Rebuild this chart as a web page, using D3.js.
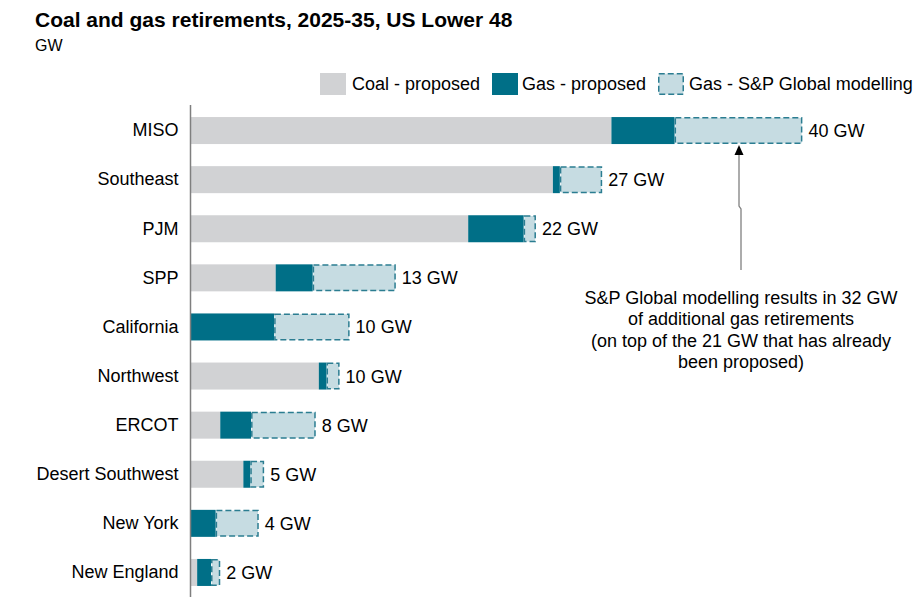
<!DOCTYPE html>
<html>
<head>
<meta charset="utf-8">
<script src="https://cdn.jsdelivr.net/npm/d3@7"></script>
<style>
  html, body { margin: 0; padding: 0; background: #fff; }
  svg { display: block; font-family: "Liberation Sans", Arial, sans-serif; }
</style>
</head>
<body>
<svg id="chart" width="919" height="604"></svg>
<script>
// ---- Data (GW) ----
const regions = ["MISO", "Southeast", "PJM", "SPP", "California", "Northwest", "ERCOT", "Desert Southwest", "New York", "New England"];
const coalProposed = [27.3, 23.5, 18.0, 5.5, 0.0, 8.3, 1.9, 3.4, 0.0, 0.4];
const gasProposed  = [4.1, 0.45, 3.6, 2.4, 5.4, 0.5, 2.0, 0.45, 1.6, 0.9];
const gasModelling = [8.3, 2.75, 0.8, 5.4, 4.9, 0.85, 4.2, 0.9, 2.8, 0.6];
const seriesNames = ["Coal - proposed", "Gas - proposed", "Gas - S&P Global modelling"];
const annotationLines = [
  "S&P Global modelling results in 32 GW",
  "of additional gas retirements",
  "(on top of the 21 GW that has already",
  "been proposed)"
];

const colors = { coal: "#d1d2d4", gas: "#006f87", model: "#c6dce2", modelStroke: "#2b7d91" };

const svg = d3.select("#chart");

// Title
svg.append("text").attr("x", 35).attr("y", 27)
  .attr("font-size", 21).attr("font-weight", "bold").attr("fill", "#000")
  .text("Coal and gas retirements, 2025-35, US Lower 48");
svg.append("text").attr("x", 35).attr("y", 51)
  .attr("font-size", 16).attr("fill", "#000").text("GW");

// Scales
const x = d3.scaleLinear().domain([0, 40]).range([191, 191 + 15.4 * 40]);
const y = d3.scaleBand().domain(regions).range([106, 597]).paddingInner(0.45).paddingOuter(0.225);

const rows = regions.map((r, i) => {
  const c = coalProposed[i], g = gasProposed[i], m = gasModelling[i];
  return { region: r, coal: c, gas: g, model: m, total: c + g + m };
});

// Bars
const bh = y.bandwidth();
const g = svg.append("g");
g.selectAll("rect.coal").data(rows).join("rect").attr("class", "coal")
  .attr("x", d => x(0)).attr("y", d => y(d.region))
  .attr("width", d => x(d.coal) - x(0)).attr("height", bh)
  .attr("fill", colors.coal);
g.selectAll("rect.gas").data(rows).join("rect").attr("class", "gas")
  .attr("x", d => x(d.coal)).attr("y", d => y(d.region))
  .attr("width", d => x(d.coal + d.gas) - x(d.coal)).attr("height", bh)
  .attr("fill", colors.gas);
g.selectAll("rect.model").data(rows).join("rect").attr("class", "model")
  .attr("x", d => x(d.coal + d.gas) + 0.75).attr("y", d => y(d.region) + 0.75)
  .attr("width", d => x(d.total) - x(d.coal + d.gas) - 1.5).attr("height", bh - 1.5)
  .attr("fill", colors.model)
  .attr("stroke", colors.modelStroke).attr("stroke-width", 1.5)
  .attr("stroke-dasharray", "6,3");

// Value labels
g.selectAll("text.val").data(rows).join("text").attr("class", "val")
  .attr("x", d => x(d.total) + 6).attr("y", d => y(d.region) + bh / 2)
  .attr("dy", "0.36em").attr("font-size", 18).attr("fill", "#000")
  .text(d => Math.round(d.total) + " GW");

// Y axis (category labels + line)
const yAxis = d3.axisLeft(y).tickSize(0).tickPadding(12);
const ag = svg.append("g").attr("transform", `translate(${x(0) - 0.5},0)`).call(yAxis);
ag.select(".domain").remove();
ag.selectAll("text").attr("font-size", 18).attr("fill", "#000")
  .attr("font-family", "'Liberation Sans', Arial, sans-serif");
svg.append("line").attr("x1", x(0) - 0.5).attr("x2", x(0) - 0.5)
  .attr("y1", 105).attr("y2", 597).attr("stroke", "#7f7f7f").attr("stroke-width", 1.5);

// Legend
const legendItems = [
  { name: seriesNames[0], sx: 320, tx: 352, fill: colors.coal, dashed: false },
  { name: seriesNames[1], sx: 492, tx: 522, fill: colors.gas, dashed: false },
  { name: seriesNames[2], sx: 658, tx: 689, fill: colors.model, dashed: true }
];
const lg = svg.append("g");
legendItems.forEach(it => {
  const r = lg.append("rect").attr("x", it.sx + (it.dashed ? 0.75 : 0)).attr("y", 73 + (it.dashed ? 0.75 : 0))
    .attr("width", it.dashed ? 24.5 : 26).attr("height", it.dashed ? 20.5 : 22).attr("fill", it.fill);
  if (it.dashed) r.attr("stroke", colors.modelStroke).attr("stroke-width", 1.5).attr("stroke-dasharray", "6,3");
  lg.append("text").attr("x", it.tx).attr("y", 84).attr("dy", "0.36em")
    .attr("font-size", 18).attr("fill", "#000").text(it.name);
});

// Annotation arrow
const ax = 740;
const misoBottom = y("MISO") + bh;
svg.append("path")
  .attr("d", `M${ax + 1},270 L${ax + 1},209 L${ax - 1},206 L${ax - 1},${misoBottom + 10}`)
  .attr("fill", "none").attr("stroke", "#808080").attr("stroke-width", 1.3);
svg.append("path")
  .attr("d", `M${ax - 1},${misoBottom + 1} L${ax - 5.5},${misoBottom + 11} L${ax + 3.5},${misoBottom + 11} Z`)
  .attr("fill", "#000");

const at = svg.append("text").attr("x", 741).attr("y", 304)
  .attr("text-anchor", "middle").attr("font-size", 18).attr("fill", "#000");
annotationLines.forEach((l, i) => {
  at.append("tspan").attr("x", 741).attr("dy", i === 0 ? 0 : 21.3).text(l);
});
</script>
</body>
</html>
